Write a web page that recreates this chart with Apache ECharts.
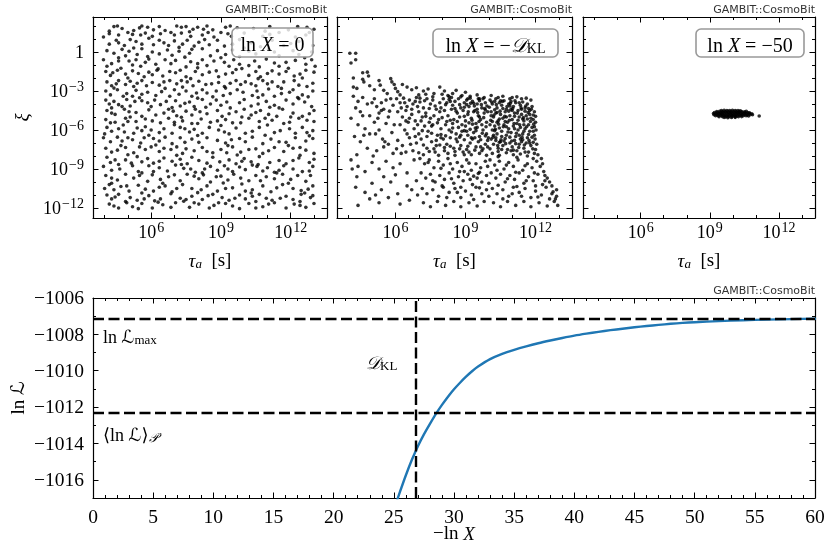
<!DOCTYPE html>
<html><head><meta charset="utf-8">
<script src="https://cdn.jsdelivr.net/npm/echarts@6/dist/echarts.min.js"></script>
<style>html,body{margin:0;padding:0;background:#fff}#c{width:830px;height:556px}</style>
</head><body><div id="c"></div>
<script>
// ---------------- DATA ----------------
// scatter points: [log10(tau_a / s), log10(xi)]
const panel1Points = [
[4.4,1.95],[4.55,2.0],[5.5,1.85],[5.6,2.0],[5.85,1.9],[6.1,1.7],[7.1,2.0],[7.3,1.9],[7.5,1.95],[7.8,1.75],[8.0,1.9],[8.4,2.0],[8.65,1.7],[9.2,1.9],[9.4,2.0],[10.4,1.8],[11.1,1.95],[11.9,1.7],[12.7,1.9],[4.2,1.6],[6.6,1.65],[13.0,1.75],
[4.2,1.4],[5.0,1.5],[5.2,1.35],[5.55,1.3],[5.75,1.45],[6.05,1.2],[6.85,1.5],[7.0,1.3],[7.3,1.45],[8.2,1.3],[8.45,1.5],[8.7,1.15],[9.3,1.4],[9.45,1.2],[12.65,1.3],[12.8,1.5],[10.0,1.45],[10.8,1.2],[11.5,1.5],[3.95,1.15],
[4.5,0.9],[4.6,0.7],[4.85,0.5],[5.35,0.8],[5.6,0.6],[6.35,0.9],[6.55,0.7],[6.75,0.5],[7.0,0.85],[7.35,0.6],[7.55,0.9],[7.85,0.45],[8.05,0.75],[8.5,0.55],[8.85,0.9],[9.15,0.45],[12.35,0.8],[12.95,0.5],[10.3,0.7],[11.2,0.9],[11.7,0.5],[9.8,0.95],
[4.1,0.1],[4.4,-0.1],[4.75,0.2],[4.9,-0.3],[5.05,0.05],[5.4,-0.2],[5.6,0.25],[5.85,-0.35],[6.05,0.0],[6.7,0.15],[6.9,-0.25],[7.2,0.05],[7.65,-0.1],[7.75,0.2],[8.55,-0.3],[8.85,0.1],[9.2,-0.2],[9.5,0.15],[9.8,-0.35],[10.2,0.05],[10.5,-0.15],[11.05,0.2],[11.5,-0.3],[12.1,0.1],[12.35,-0.2],[12.9,0.0],
[5.05,-0.7],[5.2,-1.0],[5.35,-0.6],[5.55,-1.1],[5.75,-0.8],[5.9,-0.55],[6.85,-0.9],[7.05,-0.65],[7.5,-1.15],[7.7,-0.75],[8.2,-0.6],[8.4,-1.05],[9.15,-0.8],[9.35,-1.1],[9.55,-0.6],[9.8,-0.95],[10.45,-0.7],[10.65,-1.15],[10.95,-0.55],[11.3,-0.85],[11.5,-1.1],[12.2,-0.65],[12.65,-0.95],[12.9,-0.6],[4.3,-0.9],[3.95,-0.6],
[4.05,-1.5],[4.25,-1.8],[4.55,-1.4],[4.9,-1.7],[5.2,-1.45],[5.7,-1.9],[5.9,-1.55],[6.05,-1.75],[6.25,-1.4],[6.5,-1.85],[7.05,-1.6],[7.25,-1.4],[7.5,-1.9],[7.9,-1.5],[8.2,-1.75],[8.8,-1.45],[8.9,-1.9],[9.5,-1.6],[9.65,-1.35],[10.2,-1.8],[10.5,-1.5],[10.7,-1.9],[11.2,-1.45],[11.5,-1.7],[11.8,-1.5],[12.15,-1.85],[12.65,-1.4],
[4.1,-2.3],[4.3,-2.6],[4.6,-2.2],[4.9,-2.5],[5.1,-2.25],[5.25,-2.65],[5.4,-2.4],[5.6,-2.2],[5.8,-2.6],[6.05,-2.35],[6.35,-2.55],[6.8,-2.2],[7.1,-2.45],[7.35,-2.7],[7.55,-2.3],[7.8,-2.6],[8.05,-2.25],[8.35,-2.5],[8.9,-2.35],[9.15,-2.65],[9.65,-2.2],[9.85,-2.5],[10.05,-2.3],[10.5,-2.6],[10.8,-2.2],[11.0,-2.45],[11.45,-2.65],[11.7,-2.3],[12.15,-2.2],[12.35,-2.55],[12.95,-2.4],
[4.05,-3.0],[4.25,-3.3],[4.55,-2.9],[4.95,-3.2],[5.2,-3.4],[5.35,-2.95],[5.85,-3.1],[6.2,-3.35],[7.0,-2.9],[7.2,-3.25],[7.5,-3.0],[7.75,-3.4],[8.2,-2.9],[8.4,-3.15],[8.65,-3.45],[8.8,-3.0],[9.4,-3.2],[9.7,-2.9],[10.35,-3.35],[10.55,-3.0],[10.8,-3.3],[11.05,-2.85],[11.3,-3.4],[11.95,-3.1],[12.1,-2.9],[12.5,-3.3],[12.95,-3.0],
[4.05,-3.7],[4.2,-4.0],[4.4,-3.8],[4.75,-4.2],[4.95,-3.65],[5.85,-3.9],[6.0,-4.2],[6.15,-3.7],[6.4,-4.05],[7.05,-3.75],[7.25,-4.15],[7.65,-3.85],[7.85,-4.2],[8.2,-3.65],[8.55,-4.0],[8.8,-3.7],[9.0,-4.1],[9.8,-3.9],[10.0,-3.65],[10.3,-4.15],[10.95,-3.8],[11.3,-4.1],[11.8,-3.7],[12.1,-4.0],[12.6,-3.85],[12.9,-4.2],[5.3,-3.8],
[4.1,-4.5],[4.45,-4.8],[4.85,-4.4],[5.35,-4.65],[5.6,-4.95],[5.9,-4.45],[6.55,-4.7],[6.75,-4.4],[7.1,-4.9],[7.5,-4.55],[7.75,-4.85],[7.9,-4.4],[8.4,-4.75],[8.85,-4.5],[9.05,-4.95],[9.65,-4.6],[10.0,-4.4],[10.3,-4.85],[10.7,-4.5],[11.05,-4.8],[11.65,-4.4],[12.1,-4.7],[12.5,-4.95],[13.0,-4.5],
[4.05,-5.2],[4.45,-5.4],[4.9,-5.1],[5.35,-5.35],[5.75,-5.15],[6.4,-5.45],[6.75,-5.1],[7.35,-5.3],[7.75,-5.5],[8.15,-5.15],[8.55,-5.4],[9.2,-5.2],[9.5,-5.45],[10.2,-5.1],[10.65,-5.35],[11.2,-5.25],[11.7,-5.5],[12.35,-5.1],[13.0,-5.35],
[4.1,-5.8],[4.3,-6.1],[4.6,-5.9],[5.25,-6.25],[5.4,-5.85],[5.6,-6.05],[5.75,-5.75],[6.35,-6.2],[6.55,-5.9],[7.25,-5.8],[7.65,-6.15],[7.85,-5.95],[8.2,-6.25],[8.5,-5.8],[8.9,-6.0],[9.35,-6.3],[9.65,-5.85],[10.35,-6.1],[10.65,-5.8],[11.3,-6.2],[11.95,-5.9],[12.2,-6.25],[12.5,-5.8],[12.95,-6.05],
[3.95,-6.6],[4.25,-6.9],[4.55,-6.55],[5.2,-6.75],[5.55,-7.0],[5.7,-6.6],[6.35,-6.85],[6.6,-6.55],[6.9,-7.05],[7.75,-6.7],[8.05,-6.95],[8.4,-6.6],[8.85,-6.8],[9.2,-7.0],[9.8,-6.65],[10.05,-6.9],[10.35,-6.55],[10.8,-7.05],[11.15,-6.7],[11.5,-6.9],[12.2,-6.6],[12.65,-6.85],
[4.05,-7.4],[4.3,-7.7],[4.9,-7.35],[5.25,-7.75],[5.75,-7.5],[6.0,-7.3],[6.35,-7.65],[6.55,-7.4],[7.35,-7.8],[7.5,-7.45],[7.85,-7.6],[8.2,-7.35],[8.65,-7.75],[9.0,-7.5],[9.5,-7.3],[9.85,-7.7],[10.5,-7.45],[10.8,-7.8],[11.3,-7.35],[11.7,-7.65],[12.1,-7.4],[12.65,-7.55],[13.0,-7.8],
[4.1,-8.1],[4.25,-8.5],[4.9,-8.3],[5.4,-8.05],[5.6,-8.45],[5.85,-8.2],[6.1,-8.55],[6.55,-8.15],[6.9,-8.4],[7.55,-8.6],[7.75,-8.1],[8.05,-8.35],[8.4,-8.55],[8.65,-8.1],[9.35,-8.3],[9.65,-8.6],[10.0,-8.2],[10.3,-8.45],[10.65,-8.05],[11.5,-8.35],[11.8,-8.6],[12.35,-8.15],[12.8,-8.5],[13.0,-8.25],
[3.95,-8.8],[4.3,-9.1],[5.2,-8.75],[5.45,-9.2],[6.35,-8.9],[6.7,-9.15],[7.05,-8.7],[7.7,-9.0],[7.9,-9.25],[8.55,-8.8],[8.85,-9.1],[9.15,-8.75],[9.5,-9.2],[9.8,-8.85],[10.05,-9.05],[10.35,-8.7],[10.8,-9.15],[11.0,-8.9],[11.3,-9.25],[11.7,-8.75],[12.1,-9.0],[12.5,-9.2],[12.95,-8.8],
[4.05,-9.5],[4.55,-9.85],[4.9,-9.4],[5.25,-9.7],[5.85,-9.95],[6.05,-9.45],[6.75,-9.6],[7.25,-9.9],[7.55,-9.4],[8.05,-9.75],[8.25,-9.45],[8.55,-10.0],[9.0,-9.55],[9.3,-9.85],[9.55,-9.4],[9.85,-9.7],[10.5,-9.5],[10.7,-9.9],[10.95,-9.6],[11.65,-9.4],[12.0,-9.8],[12.3,-9.5],[12.65,-9.95],
[4.2,-10.2],[4.4,-10.6],[4.7,-10.35],[5.05,-10.7],[5.45,-10.25],[5.75,-10.55],[6.35,-10.4],[6.9,-10.75],[7.35,-10.2],[7.75,-10.5],[8.4,-10.3],[8.85,-10.7],[9.5,-10.45],[9.9,-10.15],[10.35,-10.6],[10.8,-10.3],[11.15,-10.75],[11.65,-10.2],[12.1,-10.5],[12.45,-10.65],[12.95,-10.3],
[4.1,-11.0],[4.3,-11.3],[4.6,-10.95],[5.1,-11.2],[5.4,-11.4],[5.9,-11.05],[6.4,-11.3],[6.85,-10.9],[7.25,-11.25],[7.75,-11.1],[8.2,-11.35],[8.65,-10.95],[9.05,-11.2],[9.35,-11.4],[9.8,-11.0],[10.05,-11.3],[10.65,-10.95],[10.95,-11.25],[11.2,-11.4],[11.8,-11.1],[12.1,-11.35],[12.45,-10.95],[12.85,-11.2],
[4.2,-11.7],[4.95,-11.6],[5.2,-11.9],[5.6,-11.65],[6.05,-12.0],[6.5,-11.75],[7.05,-11.6],[7.65,-11.95],[8.05,-11.7],[8.5,-12.0],[8.9,-11.6],[9.5,-11.85],[9.8,-12.05],[10.2,-11.65],[10.8,-11.9],[11.3,-11.6],[11.8,-12.0],[12.15,-11.7],[12.65,-11.95],[4.6,-12.0],
[4.7,-1.25],[6.3,-1.3],[8.0,-1.22],[9.9,-1.28],[11.9,-1.25],[5.0,-2.0],[7.7,-2.05],[10.6,-2.05],[12.5,-2.0],[4.4,-2.78],[6.6,-2.8],[9.2,-2.78],[11.6,-2.8],
[5.5,-3.52],[8.0,-3.55],[10.6,-3.5],[12.3,-3.5],[4.3,-4.3],[6.9,-4.28],[9.4,-4.3],[11.5,-4.3],[5.1,-5.0],[7.3,-5.02],[9.9,-5.0],[12.0,-5.0],
[4.8,-5.62],[7.0,-5.6],[9.0,-5.65],[11.0,-5.62],[5.9,-6.4],[8.0,-6.42],[10.9,-6.4],[12.8,-6.45],[4.7,-7.2],[6.2,-7.15],[9.3,-7.2],[11.9,-7.2],
[5.0,-7.9],[7.1,-7.95],[9.7,-7.92],[12.4,-7.95],[4.6,-8.65],[7.3,-8.65],[10.6,-8.65],[5.6,-9.3],[8.2,-9.3],[11.4,-9.3],
[4.3,-10.1],[6.5,-10.1],[9.1,-10.08],[11.9,-10.1],[5.6,-10.85],[8.0,-10.82],[10.3,-10.85],[12.6,-10.85],[4.9,-11.5],[7.4,-11.48],[10.5,-11.5],[12.4,-11.5],
[4.75,1.8],[6.35,1.95],[8.25,1.75],[9.7,1.85],[10.9,1.6],[12.3,1.95],[5.25,1.65],[7.65,1.55],
[4.6,1.3],[6.4,1.4],[7.7,1.2],[9.0,1.5],[11.1,1.35],[12.2,1.15],[5.9,1.05],
[4.2,0.6],[5.1,0.95],[6.1,0.55],[7.2,0.35],[8.3,0.95],[9.5,0.6],[10.7,0.4],[12.0,0.65],
[4.6,-0.45],[5.25,0.3],[6.35,-0.15],[7.45,-0.4],[8.2,0.25],[9.0,-0.45],[10.0,0.3],[11.3,0.0],[12.6,-0.45],
[4.1,-1.1],[4.6,-0.7],[6.2,-0.95],[6.6,-0.6],[8.0,-0.9],[8.7,-0.7],[10.2,-1.05],[11.8,-0.8],[13.05,-1.1],
[4.35,-1.6],[5.45,-1.65],[6.8,-1.5],[8.5,-1.55],[9.2,-1.7],[11.0,-1.65],[12.4,-1.7],[13.0,-1.55],
[4.5,-2.45],[6.55,-2.3],[7.3,-2.2],[8.6,-2.45],[9.4,-2.4],[10.3,-2.45],[11.2,-2.3],[12.7,-2.65],
[4.8,-3.4],[5.6,-3.25],[6.45,-3.05],[6.8,-3.4],[7.95,-3.15],[9.1,-3.35],[9.95,-3.1],[11.6,-3.2],[12.75,-3.45],
[4.6,-4.05],[5.1,-4.15],[5.6,-3.75],[6.65,-3.8],[7.45,-3.95],[8.35,-4.25],[9.25,-3.85],[10.6,-4.0],[11.1,-4.25],[12.35,-3.6],
[4.3,-4.7],[5.05,-4.6],[6.2,-4.85],[6.95,-4.55],[8.1,-4.6],[9.35,-4.75],[10.5,-4.65],[11.4,-4.95],[12.8,-4.75],
[4.25,-5.45],[5.0,-5.35],[6.05,-5.3],[7.0,-5.4],[8.0,-5.5],[8.85,-5.3],[9.85,-5.45],[10.9,-5.1],[11.95,-5.4],[12.7,-5.25],
[4.0,-6.3],[4.85,-6.15],[6.0,-6.0],[6.9,-6.25],[7.45,-5.9],[9.15,-6.15],[10.05,-6.25],[11.55,-6.05],[12.7,-6.2],
[4.75,-6.85],[5.0,-6.6],[6.1,-6.65],[7.25,-6.6],[7.45,-6.95],[9.45,-6.75],[11.8,-6.95],[12.95,-6.65],
[4.55,-7.55],[5.5,-7.3],[6.85,-7.5],[7.1,-7.3],[8.4,-7.65],[9.25,-7.75],[10.2,-7.5],[11.05,-7.6],[12.4,-7.35],
[4.45,-8.3],[5.15,-8.55],[6.35,-8.4],[7.25,-8.25],[8.95,-8.45],[9.9,-8.4],[11.1,-8.5],[12.1,-8.35],
[4.65,-9.0],[5.9,-8.75],[6.1,-9.2],[7.4,-8.95],[8.3,-9.0],[9.3,-9.0],[10.55,-8.8],[11.5,-9.1],[12.8,-9.15],
[4.3,-9.7],[5.5,-9.5],[6.4,-9.8],[7.0,-9.45],[7.85,-9.55],[8.8,-9.6],[10.2,-9.9],[11.3,-9.75],[12.85,-9.5],
[4.0,-10.5],[4.95,-10.3],[6.1,-10.7],[6.6,-10.3],[7.1,-10.5],[8.15,-10.6],[9.2,-10.5],[10.05,-10.7],[11.4,-10.45],[12.75,-10.55],
[4.45,-11.15],[5.7,-11.3],[6.15,-11.45],[7.5,-11.35],[8.45,-11.05],[9.6,-11.25],[10.35,-11.1],[11.55,-11.25],[12.95,-11.05],
[4.4,-11.85],[5.45,-12.05],[6.3,-11.55],[6.85,-11.95],[7.85,-11.6],[8.7,-11.8],[9.2,-11.65],[10.5,-12.0],[11.05,-11.7],[12.4,-11.8],[13.0,-11.65]
];
const panel2Points = [
[4.05,-0.1],[4.3,-0.1],[4.1,-0.85],[4.3,-0.6],[4.2,-2.0],[4.8,-1.55],[4.85,-1.85],[4.2,-2.7],[4.35,-2.8],[4.6,-1.6],[4.6,-2.1],[4.65,-2.3],[4.9,-2.6],
[5.3,-2.2],[5.35,-2.55],[5.8,-2.05],[5.85,-2.3],[6.0,-2.8],[6.5,-2.7],[5.5,-2.95],[5.65,-3.2],[6.1,-3.05],[5.1,-2.9],[6.3,-2.5],[5.95,-2.5],[6.7,-2.9],[6.2,-3.3],
[7.9,-2.7],[8.45,-3.2],[8.85,-3.35],[7.65,-3.2],[7.2,-3.0],[7.4,-2.85],[8.1,-3.0],[8.6,-2.95],[9.2,-3.4],[9.5,-3.3],[9.8,-3.5],[10.1,-3.35],[10.4,-3.5],[10.6,-3.4],[10.9,-3.6],[11.2,-3.45],[11.4,-3.6],[11.6,-3.55],[9.0,-3.1],[7.0,-3.3],[6.9,-2.75],[8.3,-3.45],[9.6,-3.6],[10.3,-3.6],[11.0,-3.5],[11.8,-3.7],
[4.2,-3.4],[4.4,-3.8],[4.6,-3.5],[4.3,-4.3],[4.5,-4.6],[4.1,-5.1],[4.8,-4.0],[4.9,-4.9],[5.1,-3.6],[5.2,-4.2],[5.4,-3.9],[5.3,-4.7],[5.6,-3.7],[5.5,-4.4],[5.7,-5.0],[5.9,-4.1],[5.8,-3.6],[4.4,-5.6],[4.7,-5.9],[4.25,-6.5],[4.5,-6.9],[4.9,-6.3],[5.1,-5.4],[5.3,-6.0],[5.45,-6.7],[5.6,-5.5],[5.85,-6.2],[5.7,-7.1],[4.8,-7.4],[5.2,-7.6],[5.9,-7.8],[4.35,-7.9],[5.5,-7.3],
[6.05,-3.6],[6.2,-3.9],[6.35,-3.55],[6.5,-4.2],[6.6,-3.7],[6.75,-4.0],[6.9,-3.5],[7.05,-3.85],[7.2,-4.3],[7.35,-3.6],[7.5,-4.0],[7.6,-3.7],[7.75,-4.4],[7.9,-3.9],[6.1,-4.6],[6.3,-5.0],[6.45,-4.5],[6.7,-4.8],[6.85,-5.3],[7.0,-4.6],[7.15,-5.0],[7.3,-4.7],[7.45,-5.4],[7.65,-4.9],[7.85,-5.2],[6.2,-5.6],[6.4,-6.0],[6.55,-5.4],[6.8,-5.9],[7.0,-6.3],[7.25,-5.7],[7.4,-6.1],[7.6,-5.6],[7.8,-6.4],[7.95,-5.9],[6.1,-6.8],[6.3,-7.2],[6.6,-6.6],[6.9,-7.0],[7.1,-6.7],[7.35,-7.4],[7.55,-6.9],[7.75,-7.2],[7.95,-6.6],[6.25,-7.8],[6.75,-7.6],[7.2,-7.9],[7.7,-7.7],[6.5,-6.3],[7.9,-4.6],[6.95,-4.2],[7.5,-5.1],[6.6,-5.1],[7.85,-7.95],
[8.05,-3.6],[8.2,-3.9],[8.3,-3.65],[8.45,-4.1],[8.55,-3.8],[8.7,-3.6],[8.8,-4.3],[8.95,-3.9],[9.05,-3.7],[9.15,-4.2],[9.3,-3.8],[9.4,-4.5],[9.5,-4.0],[9.6,-3.75],[9.7,-4.3],[9.85,-3.9],[9.95,-4.6],[8.1,-4.5],[8.25,-4.9],[8.4,-4.4],[8.5,-5.2],[8.65,-4.7],[8.75,-5.0],[8.9,-4.5],[9.0,-5.3],[9.1,-4.8],[9.25,-5.1],[9.35,-4.6],[9.45,-5.5],[9.55,-4.9],[9.65,-5.2],[9.8,-4.7],[9.9,-5.4],
[8.15,-5.6],[8.3,-6.0],[8.45,-5.5],[8.6,-6.3],[8.7,-5.8],[8.85,-6.1],[9.0,-5.7],[9.1,-6.4],[9.2,-5.95],[9.35,-6.2],[9.5,-5.8],[9.6,-6.5],[9.75,-6.0],[9.9,-6.3],[8.05,-6.7],[8.2,-7.1],[8.35,-6.6],[8.5,-7.4],[8.65,-6.9],[8.8,-7.2],[8.95,-6.75],[9.05,-7.5],[9.2,-7.0],[9.3,-6.7],[9.45,-7.3],[9.55,-6.9],[9.7,-7.6],[9.85,-7.1],[9.95,-6.8],
[8.25,-7.8],[8.55,-7.95],[8.9,-7.7],[9.25,-7.9],[9.6,-7.8],[9.9,-7.95],[8.4,-3.5],[9.2,-3.55],[9.75,-3.6],[8.6,-4.55],[9.5,-4.4],[8.35,-5.25],[9.15,-5.45],[9.7,-5.6],[8.75,-6.55],[9.4,-6.6],[8.1,-7.35],[9.1,-7.25],[9.65,-7.3],
[10.05,-3.7],[10.15,-4.0],[10.25,-3.8],[10.35,-4.3],[10.45,-3.9],[10.55,-4.1],[10.65,-3.75],[10.75,-4.4],[10.85,-4.0],[10.95,-3.8],[11.05,-4.2],[11.15,-3.9],[11.25,-4.5],[11.35,-4.1],[11.45,-3.85],[11.55,-4.3],[11.65,-4.0],[11.75,-4.5],[11.85,-4.2],[11.95,-4.6],
[10.1,-4.6],[10.2,-5.0],[10.3,-4.7],[10.4,-5.3],[10.5,-4.8],[10.6,-5.1],[10.7,-4.6],[10.8,-5.4],[10.9,-4.9],[11.0,-5.2],[11.1,-4.7],[11.2,-5.5],[11.3,-5.0],[11.4,-4.8],[11.5,-5.3],[11.6,-4.9],[11.7,-5.6],[11.8,-5.1],[11.9,-4.85],[12.0,-5.4],
[10.05,-5.6],[10.15,-6.0],[10.25,-5.7],[10.35,-6.3],[10.45,-5.85],[10.55,-6.1],[10.65,-5.6],[10.75,-6.4],[10.85,-5.9],[10.95,-6.2],[11.05,-5.7],[11.15,-6.5],[11.25,-6.0],[11.35,-5.8],[11.45,-6.3],[11.55,-5.9],[11.65,-6.6],[11.75,-6.1],[11.85,-5.8],[11.95,-6.4],
[10.1,-6.7],[10.2,-7.1],[10.3,-6.8],[10.4,-7.4],[10.5,-6.9],[10.6,-7.2],[10.7,-6.65],[10.8,-7.5],[10.9,-7.0],[11.0,-7.3],[11.1,-6.8],[11.2,-7.6],[11.3,-7.1],[11.4,-6.9],[11.5,-7.4],[11.6,-7.0],[11.7,-7.7],[11.8,-7.2],[11.9,-6.95],[12.0,-7.5],
[10.15,-7.8],[10.45,-7.95],[10.75,-7.75],[11.05,-7.9],[11.35,-7.85],[11.65,-8.0],[11.95,-7.8],[12.1,-7.9],
[10.25,-4.45],[10.6,-4.35],[11.0,-4.5],[11.4,-4.4],[11.75,-4.8],[10.35,-5.4],[10.75,-5.0],[11.1,-5.9],[11.5,-5.6],[11.9,-6.1],[10.2,-6.4],[10.55,-6.5],[11.3,-6.4],[11.7,-6.35],[10.4,-7.65],[10.95,-7.6],[11.55,-7.7],[10.9,-4.15],[11.45,-5.15],[10.45,-6.95],
[4.1,-8.3],[4.4,-8.8],[4.35,-9.6],[4.7,-9.2],[5.0,-8.5],[5.3,-9.0],[5.6,-8.4],[5.9,-8.9],[6.2,-8.6],[6.5,-9.3],[6.8,-8.3],[4.3,-10.4],[4.7,-10.8],[5.0,-10.1],[5.4,-10.6],[5.8,-10.0],[6.1,-10.9],[6.5,-10.3],[6.9,-9.9],[4.4,-11.8],[4.9,-11.3],[5.3,-11.6],[5.7,-11.2],[6.2,-11.7],[6.6,-11.4],[6.95,-11.0],[4.15,-9.0],
[7.05,-8.2],[7.25,-8.6],[7.45,-8.3],[7.65,-8.9],[7.85,-8.4],[8.05,-8.7],[8.25,-8.2],[8.45,-9.0],[8.65,-8.5],[8.85,-8.8],[9.05,-8.3],[9.25,-9.1],[9.45,-8.6],[9.65,-8.9],[9.85,-8.4],
[7.1,-9.3],[7.3,-9.7],[7.5,-9.4],[7.7,-10.0],[7.9,-9.5],[8.1,-9.8],[8.3,-9.3],[8.5,-10.1],[8.7,-9.6],[8.9,-9.9],[9.1,-9.4],[9.3,-10.2],[9.5,-9.7],[9.7,-10.0],[9.9,-9.5],
[7.15,-10.5],[7.35,-10.9],[7.6,-10.6],[7.85,-11.1],[8.05,-10.4],[8.3,-10.8],[8.55,-10.5],[8.8,-11.2],[9.0,-10.7],[9.25,-11.0],[9.45,-10.4],[9.7,-10.9],[9.9,-10.6],
[7.2,-11.6],[7.5,-11.9],[7.8,-11.5],[8.15,-11.8],[8.5,-11.5],[8.8,-11.9],[9.15,-11.6],[9.5,-11.85],[9.8,-11.5],[8.95,-9.2],[9.35,-9.55],[9.6,-9.25],
[10.05,-8.3],[10.25,-8.7],[10.45,-8.4],[10.65,-9.0],[10.85,-8.5],[11.05,-8.8],[11.25,-8.3],[11.45,-9.1],[11.65,-8.6],[11.85,-8.9],[12.05,-8.4],[12.2,-8.8],[12.35,-9.2],[12.25,-8.2],
[10.1,-9.3],[10.3,-9.7],[10.5,-9.4],[10.7,-10.0],[10.9,-9.5],[11.1,-9.8],[11.3,-9.3],[11.5,-10.1],[11.7,-9.6],[11.9,-9.9],[12.1,-9.4],[12.3,-10.2],[12.5,-9.7],[12.6,-10.0],
[10.15,-10.5],[10.35,-10.9],[10.6,-10.6],[10.85,-11.1],[11.05,-10.4],[11.3,-10.8],[11.55,-10.5],[11.8,-11.2],[12.0,-10.7],[12.25,-11.0],[12.45,-10.4],[12.7,-10.9],[12.9,-10.6],[12.85,-11.3],
[10.2,-11.6],[10.5,-11.9],[10.8,-11.5],[11.15,-11.8],[11.5,-11.5],[11.8,-11.9],[12.15,-11.6],[12.5,-11.85],[12.8,-11.5],[12.95,-11.8],
[10.4,-8.05],[11.2,-8.1],[11.9,-8.2],[12.4,-9.5],[12.7,-10.3],
[9.05,-4.05],[9.12,-4.6],[9.22,-3.95],[9.28,-5.25],[9.38,-4.15],[9.42,-5.85],[9.52,-4.65],[9.58,-5.35],[9.68,-4.05],[9.72,-6.25],[9.78,-5.05],[9.82,-4.35],[9.88,-5.75],[9.92,-4.15],[9.98,-6.6],
[10.02,-4.25],[10.08,-5.25],[10.12,-3.85],[10.18,-6.55],[10.22,-4.85],[10.28,-5.95],[10.32,-4.05],[10.38,-7.2],[10.42,-5.55],[10.48,-4.55],[10.52,-6.75],[10.58,-3.8],[10.62,-5.75],[10.68,-4.95],[10.72,-7.05],[10.78,-4.2],[10.82,-6.15],[10.88,-5.25],[10.92,-3.95],[10.98,-6.85],
[11.02,-4.35],[11.08,-5.5],[11.12,-3.75],[11.18,-6.25],[11.22,-4.7],[11.28,-7.35],[11.32,-5.6],[11.38,-4.3],[11.42,-6.55],[11.48,-5.05],[11.52,-7.15],[11.58,-4.15],[11.62,-5.75],[11.68,-4.65],[11.72,-6.8],[11.78,-5.35],[11.82,-4.4],[11.88,-7.45],[11.92,-5.55],[11.98,-6.7],
[10.05,-7.45],[10.25,-6.05],[10.45,-5.15],[10.65,-6.85],[10.85,-4.55],[11.05,-7.55],[11.25,-5.25],[11.45,-6.75],[11.65,-5.15],[11.85,-6.55],[12.0,-4.95],[12.02,-6.0],[12.05,-7.1],
[10.1,-4.9],[10.3,-6.6],[10.5,-3.75],[10.7,-5.35],[10.9,-6.55],[11.1,-4.95],[11.3,-3.9],[11.5,-6.1],[11.7,-4.35],[11.9,-5.2],[10.15,-5.35],[10.35,-4.65],[10.55,-7.5],[10.75,-5.75],[10.95,-4.4],[11.15,-7.05],[11.35,-6.7],[11.55,-4.55],[11.75,-7.0],[11.95,-5.75],
[9.1,-3.6],[9.35,-3.95],[9.55,-3.6],[9.85,-4.45],[9.05,-6.1],[9.25,-6.6],[9.45,-6.05],[9.65,-6.75],[9.85,-6.45],[9.15,-7.7],[9.4,-7.55],[9.75,-7.45],[9.95,-7.3],[9.3,-5.55],[9.6,-5.0],
[7.05,-3.55],[7.25,-3.75],[7.45,-4.35],[7.7,-4.15],[7.95,-4.3],[8.15,-4.05],[8.35,-3.8],[8.55,-4.35],[8.75,-4.05],[8.95,-4.25],
[7.1,-5.3],[7.3,-4.95],[7.55,-5.7],[7.8,-5.45],[8.0,-5.05],[8.2,-5.35],[8.45,-5.85],[8.65,-5.35],[8.85,-5.6],[8.95,-4.95],
[7.15,-6.05],[7.35,-6.5],[7.55,-6.25],[7.75,-6.8],[7.95,-6.35],[8.15,-6.45],[8.4,-6.15],[8.6,-6.7],[8.8,-6.4],[8.95,-6.05],
[7.2,-7.15],[7.45,-7.65],[7.65,-7.45],[7.9,-7.15],[8.1,-7.6],[8.35,-7.25],[8.55,-7.65],[8.75,-7.45],[8.95,-7.9],[7.0,-7.75],
[7.6,-3.45],[8.25,-3.35],[8.8,-3.45],[7.3,-3.25],[8.0,-3.25],
[5.0,-3.9],[5.4,-4.5],[5.75,-4.55],[6.25,-4.3],[6.45,-5.3],[6.7,-4.4],[6.95,-5.6],[5.15,-6.3],[5.95,-5.6],[6.65,-7.1],[4.65,-6.4],[5.55,-6.9],[6.05,-7.45],[6.85,-6.5],[5.25,-5.1],[4.6,-4.9],[6.4,-3.9],[5.05,-8.0],[6.45,-7.7],[6.85,-3.8],
[7.4,-8.5],[7.95,-8.95],[8.35,-8.6],[8.75,-9.2],[9.15,-8.55],[9.55,-9.35],[9.95,-8.8],[10.35,-9.1],[10.75,-8.7],[11.15,-9.25],[11.55,-8.75],[11.95,-9.3],[12.3,-8.6],
[7.6,-9.9],[8.0,-10.3],[8.4,-9.75],[8.8,-10.4],[9.2,-9.8],[9.6,-10.45],[10.0,-10.1],[10.4,-10.25],[10.8,-9.75],[11.2,-10.35],[11.6,-9.9],[12.0,-10.3],[12.4,-9.9],[12.75,-10.75],
[8.2,-11.2],[8.65,-10.8],[9.35,-11.35],[10.0,-11.1],[10.6,-11.3],[11.0,-10.9],[11.4,-11.1],[12.1,-11.15],[12.6,-11.3],[12.9,-11.1],
[5.5,-9.6],[6.0,-9.45],[6.7,-10.6],[5.15,-11.0]
];
const panel3Points = [
[9.5,-4.5],[9.62,-4.49],[9.74,-4.51],[9.86,-4.5],[9.98,-4.48],[10.1,-4.51],[10.22,-4.5],[10.32,-4.52],
[9.3,-4.58],[9.42,-4.57],[9.54,-4.59],[9.66,-4.58],[9.78,-4.56],[9.9,-4.59],[10.02,-4.58],[10.14,-4.57],[10.26,-4.59],[10.38,-4.58],[10.5,-4.6],[10.58,-4.57],
[9.2,-4.66],[9.32,-4.65],[9.44,-4.67],[9.56,-4.66],[9.68,-4.64],[9.8,-4.67],[9.92,-4.66],[10.04,-4.65],[10.16,-4.67],[10.28,-4.66],[10.4,-4.65],[10.52,-4.67],[10.64,-4.66],[10.72,-4.68],
[9.16,-4.74],[9.28,-4.75],[9.4,-4.73],[9.52,-4.74],[9.64,-4.76],[9.76,-4.74],[9.88,-4.73],[10.0,-4.75],[10.12,-4.74],[10.24,-4.73],[10.36,-4.75],[10.48,-4.74],[10.6,-4.76],[10.72,-4.74],[10.82,-4.75],
[9.18,-4.82],[9.3,-4.83],[9.42,-4.81],[9.54,-4.82],[9.66,-4.84],[9.78,-4.82],[9.9,-4.81],[10.02,-4.83],[10.14,-4.82],[10.26,-4.81],[10.38,-4.83],[10.5,-4.82],[10.62,-4.84],[10.74,-4.82],[10.85,-4.83],
[9.25,-4.9],[9.37,-4.91],[9.49,-4.89],[9.61,-4.9],[9.73,-4.92],[9.85,-4.9],[9.97,-4.89],[10.09,-4.91],[10.21,-4.9],[10.33,-4.89],[10.45,-4.91],[10.57,-4.9],[10.68,-4.92],
[9.4,-4.98],[9.54,-4.97],[9.68,-4.99],[9.82,-4.98],[9.96,-4.97],[10.1,-4.99],[10.24,-4.98],[10.38,-4.97],
[9.62,-5.04],[9.78,-5.05],[9.94,-5.04],[10.1,-5.03],
[11.14,-4.92]
];
// likelihood curve
const negLnX = [25.0,25.5,26.0,26.5,27.0,27.5,28.0,28.5,29.0,29.5,30.0,30.5,31.0,31.5,32,33,34,35,36,37,38,39,40,41,42,43,44,45,46,47,48,49,50,52,54,56,58,60];
const lnL = [-1017.65,-1016.68,-1015.75,-1014.9,-1014.15,-1013.5,-1012.92,-1012.37,-1011.88,-1011.43,-1011.02,-1010.66,-1010.33,-1010.03,-1009.77,-1009.36,-1009.07,-1008.85,-1008.66,-1008.49,-1008.34,-1008.2,-1008.07,-1007.96,-1007.86,-1007.77,-1007.69,-1007.61,-1007.54,-1007.48,-1007.42,-1007.37,-1007.33,-1007.27,-1007.22,-1007.19,-1007.16,-1007.14];
const lnLmax = -1007.15;
const meanLnL = -1012.3;
const dKL = 26.8;
// tick labels
const tauTickExps = [6, 9, 12];
const xiTickExps = [-12, -9, -6, -3, 0];
const bottomXTicks = [0,5,10,15,20,25,30,35,40,45,50,55,60];
const bottomYTicks = [-1016,-1014,-1012,-1010,-1008,-1006];
const panelLabels = ['{r|ln }{i|X}{r| = 0}', '{r|ln }{i|X}{r| = \u2212}{c|\uD835\uDC9F}{sb|KL}', '{r|ln }{i|X}{r| = \u221250}'];
const watermark = 'GAMBIT::CosmoBit';

// ---------------- CHART ----------------
const SERIF = '"Liberation Serif","DejaVu Serif","DejaVu Sans",serif';
const CAL = '"DejaVu Sans","DejaVu Serif","Liberation Serif",serif';
function richTickFor(fs, sfs){
  return {
    m:{fontFamily:SERIF,fontSize:fs,lineHeight:fs+3,verticalAlign:'bottom',color:'#000'},
    s:{fontFamily:SERIF,fontSize:sfs,lineHeight:sfs-1,verticalAlign:'top',color:'#000',padding:[0,0,0,1]}
  };
}
function richText(fs){
  const sub = Math.round(fs*0.7), subLH = Math.round(fs*0.52);
  return {
    r:{fontFamily:SERIF,fontSize:fs,lineHeight:fs+5,verticalAlign:'bottom',color:'#000'},
    i:{fontFamily:SERIF,fontStyle:'italic',fontSize:fs,lineHeight:fs+5,verticalAlign:'bottom',color:'#000'},
    c:{fontFamily:CAL,fontStyle:'italic',fontSize:fs,lineHeight:fs+5,verticalAlign:'bottom',color:'#000'},
    sb:{fontFamily:SERIF,fontSize:sub,lineHeight:subLH,verticalAlign:'bottom',color:'#000'},
    sbi:{fontFamily:SERIF,fontStyle:'italic',fontSize:sub,lineHeight:subLH,verticalAlign:'bottom',color:'#000'},
    sbc:{fontFamily:CAL,fontStyle:'italic',fontSize:sub,lineHeight:subLH,verticalAlign:'bottom',color:'#000'}
  };
}
function powLabel(e){ return e===0 ? '{m|1}' : '{m|10}{s|'+(e<0?'\u2212':'')+Math.abs(e)+'}'; }
function onList(v,list){ const r=Math.round(v); return (Math.abs(v-r)<1e-6 && list.indexOf(r)>=0) ? r : null; }

const TAU_MIN=3.5, TAU_MAX=13.56, XI_MIN=-12.77, XI_MAX=2.69;
const grids=[
  {left:93,top:17,width:234,height:201},
  {left:337,top:17,width:235,height:201},
  {left:583,top:17,width:232,height:201},
  {left:93,top:298,width:722,height:200}
];
const xAxes=[], yAxes=[];
function mkAxis(g,pos,min,max,step,major,fmt,labelCfg,extra){
  const o={type:'value',gridIndex:g,position:pos,min:min,max:max,minInterval:step,maxInterval:step,
    axisLine:{show:major,onZero:false,lineStyle:{color:'#000',width:1.2}},
    axisTick:{show:true,inside:true,length:major?5.5:3,lineStyle:{color:'#000',width:1}},
    axisLabel:Object.assign({show:!!fmt,formatter:fmt||undefined,color:'#000',fontFamily:SERIF,hideOverlap:false},labelCfg||{}),
    splitLine:{show:false},minorTick:{show:false},axisPointer:{show:false},silent:true,nameMoveOverlap:false};
  if(extra) Object.assign(o,extra);
  return o;
}
const xMain=[], yMain=[];
const tauFmt = v => { const r=onList(v,tauTickExps); return r===null?'':powLabel(r); };
const xiFmt = v => { const r=onList(v,xiTickExps); return r===null?'':powLabel(r); };
const topTickX = {rich:richTickFor(18,14),margin:3};
const topTickY = {rich:richTickFor(18,14),margin:9};
for(let g=0; g<3; g++){
  xMain.push(xAxes.length);
  xAxes.push(mkAxis(g,'bottom',TAU_MIN,TAU_MAX,3,true,tauFmt,topTickX,{
    name:'{i|\u03C4}{sbi|a}{r|  [s]}',nameLocation:'middle',nameGap:29,
    nameTextStyle:{rich:richText(19)}}));
  xAxes.push(mkAxis(g,'bottom',TAU_MIN,TAU_MAX,1,false,null));
  xAxes.push(mkAxis(g,'top',TAU_MIN,TAU_MAX,3,true,null));
  xAxes.push(mkAxis(g,'top',TAU_MIN,TAU_MAX,1,false,null));
  yMain.push(yAxes.length);
  yAxes.push(mkAxis(g,'left',XI_MIN,XI_MAX,3,true,g===0?xiFmt:null,topTickY, g===0?{
    name:'{i|\u03BE}',nameLocation:'middle',nameGap:61,nameRotate:90,
    nameTextStyle:{rich:richText(19)}}:null));
  yAxes.push(mkAxis(g,'left',XI_MIN,XI_MAX,1,false,null));
  yAxes.push(mkAxis(g,'right',XI_MIN,XI_MAX,3,true,null));
  yAxes.push(mkAxis(g,'right',XI_MIN,XI_MAX,1,false,null));
}
// bottom panel
const bxFmt = v => { const r=onList(v,bottomXTicks); return r===null?'':'{m|'+r+'}'; };
const byFmt = v => { const r=onList(v,bottomYTicks); return r===null?'':'{m|'+(r<0?'\u2212':'')+Math.abs(r)+'}'; };
const botTickX = {rich:richTickFor(19.5,14),margin:7};
const botTickY = {rich:richTickFor(19.5,14),margin:9};
xMain.push(xAxes.length);
xAxes.push(mkAxis(3,'bottom',0,60,5,true,bxFmt,botTickX,{
  name:'{r|\u2212ln }{i|X}',nameLocation:'middle',nameGap:22,nameTextStyle:{rich:richText(19)}}));
xAxes.push(mkAxis(3,'bottom',0,60,1,false,null));
xAxes.push(mkAxis(3,'top',0,60,5,true,null));
xAxes.push(mkAxis(3,'top',0,60,1,false,null));
yMain.push(yAxes.length);
yAxes.push(mkAxis(3,'left',-1017,-1006,2,true,byFmt,botTickY,{
  name:'{r|ln }{c|\u2112}',nameLocation:'middle',nameGap:64,nameRotate:90,nameTextStyle:{rich:richText(19)}}));
yAxes.push(mkAxis(3,'left',-1017,-1006,1,false,null));
yAxes.push(mkAxis(3,'right',-1017,-1006,2,true,null));
yAxes.push(mkAxis(3,'right',-1017,-1006,1,false,null));

const scatterData=[panel1Points,panel2Points,panel3Points];
const series=scatterData.map((d,i)=>({
  type:'scatter',xAxisIndex:xMain[i],yAxisIndex:yMain[i],data:d,symbol:'circle',symbolSize:3.6,
  itemStyle:{color:'#000'},silent:true,animation:false,z:2
}));
series.push({
  type:'line',xAxisIndex:xMain[3],yAxisIndex:yMain[3],
  data:negLnX.map((x,i)=>[x,lnL[i]]),showSymbol:false,symbol:'none',smooth:0.3,
  lineStyle:{color:'#1f77b4',width:2.4,join:'round',cap:'round'},clip:true,silent:true,animation:false,z:3,
  markLine:{silent:true,symbol:['none','none'],label:{show:false},animation:false,
    lineStyle:{color:'#000',type:[11,4.5],width:2.4},
    emphasis:{disabled:true},
    data:[{yAxis:lnLmax},{yAxis:meanLnL},{xAxis:dKL}]}
});

const graphic=[];
const boxes=[[232,28,81,29],[433,29,125,28],[696,29,108,28]];
boxes.forEach((b,i)=>{
  graphic.push({type:'rect',z:100,shape:{x:b[0],y:b[1],width:b[2],height:b[3],r:5},
    style:{fill:'rgba(255,255,255,0.8)',stroke:'#999',lineWidth:1.6}});
  graphic.push({type:'text',z:101,x:b[0]+b[2]/2,y:b[1]+b[3]/2+1,
    style:{text:panelLabels[i],rich:richText(20),align:'center',verticalAlign:'middle',textAlign:'center',textVerticalAlign:'middle'}});
});
[[327,10],[572,10],[815,10],[815,291]].forEach(p=>{
  graphic.push({type:'text',z:101,x:p[0],y:p[1],
    style:{text:watermark,font:'11px "DejaVu Sans"',fill:'#333',align:'right',verticalAlign:'middle',textAlign:'right',textVerticalAlign:'middle'}});
});
const annots=[
  [103,336,'{r|ln }{c|\u2112}{sb|max}'],
  [103,434,'{r|\u27E8ln }{c|\u2112}{r|\u27E9}{sbc|\uD835\uDCAB}'],
  [366,362,'{c|\uD835\uDC9F}{sb|KL}']
];
annots.forEach(a=>{
  graphic.push({type:'text',z:101,x:a[0],y:a[1],
    style:{text:a[2],rich:richText(18),align:'left',verticalAlign:'middle',textAlign:'left',textVerticalAlign:'middle'}});
});

const chart=echarts.init(document.getElementById('c'),null,{renderer:'canvas'});
chart.setOption({
  animation:false,backgroundColor:'#fff',
  grid:grids.map(g=>Object.assign({containLabel:false,outerBoundsMode:'none'},g)),
  xAxis:xAxes,yAxis:yAxes,series:series,graphic:graphic
});
</script></body></html>
